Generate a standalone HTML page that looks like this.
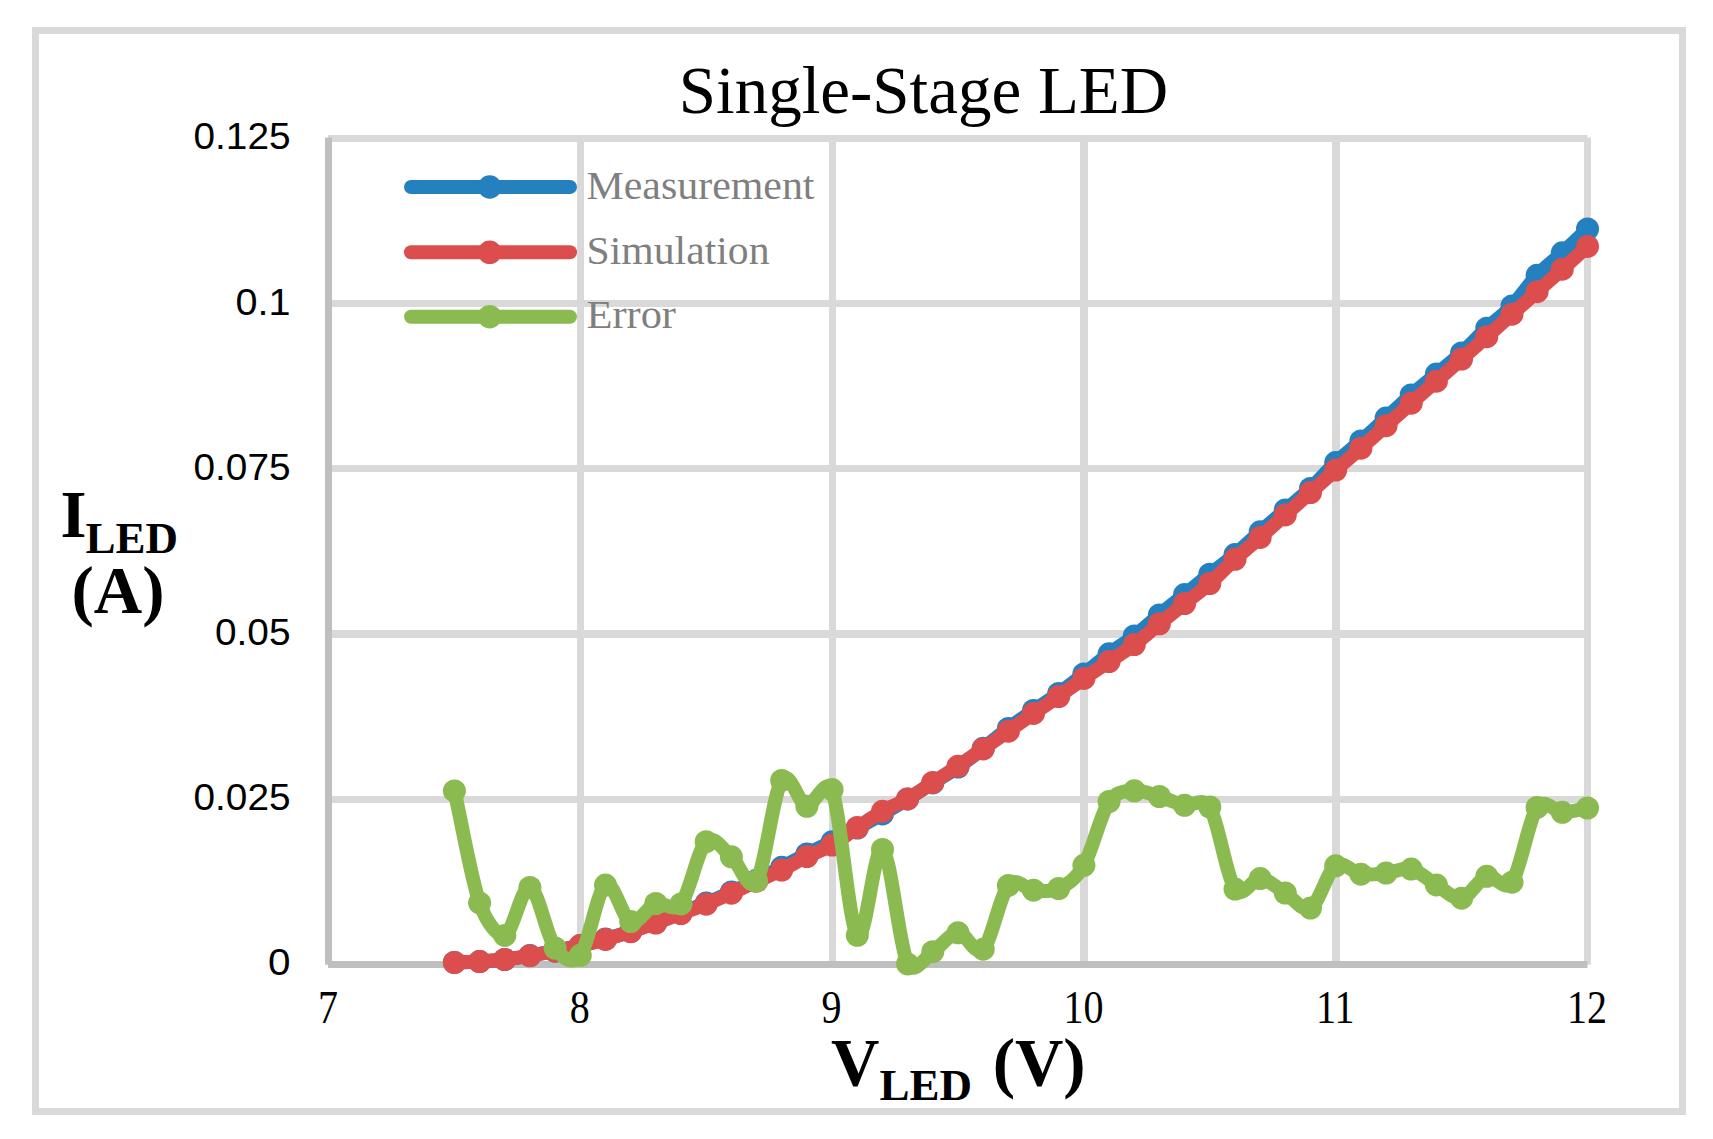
<!DOCTYPE html>
<html><head><meta charset="utf-8"><title>Single-Stage LED</title>
<style>html,body{margin:0;padding:0;background:#fff}svg{display:block}text{font-family:"Liberation Serif",serif}.sans{font-family:"Liberation Sans",sans-serif}</style></head><body>
<svg width="1713" height="1139" viewBox="0 0 1713 1139">
<rect width="1713" height="1139" fill="#fff"/>
<rect x="35.5" y="30.5" width="1647" height="1081" fill="none" stroke="#d9d9d9" stroke-width="7"/>
<g fill="#d9d9d9">
<rect x="328" y="135" width="1259.5" height="7"/><rect x="328" y="300" width="1259.5" height="7"/><rect x="328" y="465" width="1259.5" height="7"/><rect x="328" y="630" width="1259.5" height="8"/><rect x="328" y="796" width="1259.5" height="7"/><rect x="577" y="137.5" width="7" height="827.2"/><rect x="829" y="137.5" width="7" height="827.2"/><rect x="1080" y="137.5" width="8" height="827.2"/><rect x="1332" y="137.5" width="8" height="827.2"/><rect x="1584" y="137.5" width="7" height="827.2"/></g>
<g fill="#bfbfbf"><rect x="325" y="137.5" width="7" height="827.2"/><rect x="328" y="961" width="1259.5" height="7"/></g>
<g fill="#2480bf"><path d="M454.40,962.45 C462.79,962.15 471.19,962.07 479.58,961.57 C487.97,961.08 496.37,960.47 504.76,959.48 C513.15,958.48 521.55,957.01 529.94,955.60 C538.33,954.18 546.73,952.64 555.12,950.97 C563.51,949.30 571.91,947.55 580.30,945.57 C588.69,943.60 597.09,941.44 605.48,939.09 C613.87,936.75 622.27,934.23 630.66,931.49 C639.05,928.74 647.45,925.69 655.84,922.61 C664.23,919.54 672.63,916.29 681.02,913.03 C689.41,909.77 697.81,906.56 706.20,903.06 C714.59,899.56 722.99,895.82 731.38,892.02 C739.77,888.21 748.17,884.36 756.56,880.24 C764.95,876.11 773.35,871.67 781.74,867.29 C790.13,862.91 798.53,858.21 806.92,853.95 C815.31,849.70 823.71,846.06 832.10,841.75 C840.49,837.44 848.89,832.74 857.28,828.10 C865.67,823.46 874.07,818.79 882.46,813.92 C890.85,809.06 899.25,804.09 907.64,798.92 C916.03,793.74 924.43,788.15 932.82,782.85 C941.21,777.56 949.61,772.90 958.00,767.15 C966.39,761.40 974.79,754.81 983.18,748.35 C991.57,741.89 999.97,734.67 1008.36,728.37 C1016.75,722.07 1025.15,716.38 1033.54,710.54 C1041.93,704.71 1050.33,699.47 1058.72,693.38 C1067.11,687.30 1075.51,680.63 1083.90,674.04 C1092.29,667.45 1100.69,660.18 1109.08,653.84 C1117.47,647.49 1125.87,642.45 1134.26,635.96 C1142.65,629.48 1151.05,621.81 1159.44,614.91 C1167.83,608.02 1176.23,601.37 1184.62,594.59 C1193.01,587.80 1201.41,580.86 1209.80,574.20 C1218.19,567.54 1226.59,561.69 1234.98,554.62 C1243.37,547.55 1251.77,539.22 1260.16,531.77 C1268.55,524.33 1276.95,517.21 1285.34,509.98 C1293.73,502.76 1302.13,496.33 1310.52,488.44 C1318.91,480.54 1327.31,470.50 1335.70,462.60 C1344.09,454.71 1352.49,448.46 1360.88,441.05 C1369.27,433.64 1377.67,425.82 1386.06,418.14 C1394.45,410.46 1402.85,402.32 1411.24,394.98 C1419.63,387.64 1428.03,381.11 1436.42,374.09 C1444.81,367.07 1453.21,360.51 1461.60,352.86 C1469.99,345.22 1478.39,336.02 1486.78,328.21 C1495.17,320.40 1503.57,314.81 1511.96,306.00 C1520.35,297.18 1528.75,284.18 1537.14,275.32 C1545.53,266.45 1553.93,260.53 1562.32,252.81 C1570.71,245.09 1579.11,236.92 1587.50,228.98" fill="none" stroke="#2480bf" stroke-width="14" stroke-linejoin="round" stroke-linecap="round"/><circle cx="454.4" cy="962.4" r="11.5"/><circle cx="479.6" cy="961.6" r="11.5"/><circle cx="504.8" cy="959.5" r="11.5"/><circle cx="529.9" cy="955.6" r="11.5"/><circle cx="555.1" cy="951.0" r="11.5"/><circle cx="580.3" cy="945.6" r="11.5"/><circle cx="605.5" cy="939.1" r="11.5"/><circle cx="630.7" cy="931.5" r="11.5"/><circle cx="655.8" cy="922.6" r="11.5"/><circle cx="681.0" cy="913.0" r="11.5"/><circle cx="706.2" cy="903.1" r="11.5"/><circle cx="731.4" cy="892.0" r="11.5"/><circle cx="756.6" cy="880.2" r="11.5"/><circle cx="781.7" cy="867.3" r="11.5"/><circle cx="806.9" cy="854.0" r="11.5"/><circle cx="832.1" cy="841.8" r="11.5"/><circle cx="857.3" cy="828.1" r="11.5"/><circle cx="882.5" cy="813.9" r="11.5"/><circle cx="907.6" cy="798.9" r="11.5"/><circle cx="932.8" cy="782.9" r="11.5"/><circle cx="958.0" cy="767.1" r="11.5"/><circle cx="983.2" cy="748.3" r="11.5"/><circle cx="1008.4" cy="728.4" r="11.5"/><circle cx="1033.5" cy="710.5" r="11.5"/><circle cx="1058.7" cy="693.4" r="11.5"/><circle cx="1083.9" cy="674.0" r="11.5"/><circle cx="1109.1" cy="653.8" r="11.5"/><circle cx="1134.3" cy="636.0" r="11.5"/><circle cx="1159.4" cy="614.9" r="11.5"/><circle cx="1184.6" cy="594.6" r="11.5"/><circle cx="1209.8" cy="574.2" r="11.5"/><circle cx="1235.0" cy="554.6" r="11.5"/><circle cx="1260.2" cy="531.8" r="11.5"/><circle cx="1285.3" cy="510.0" r="11.5"/><circle cx="1310.5" cy="488.4" r="11.5"/><circle cx="1335.7" cy="462.6" r="11.5"/><circle cx="1360.9" cy="441.0" r="11.5"/><circle cx="1386.1" cy="418.1" r="11.5"/><circle cx="1411.2" cy="395.0" r="11.5"/><circle cx="1436.4" cy="374.1" r="11.5"/><circle cx="1461.6" cy="352.9" r="11.5"/><circle cx="1486.8" cy="328.2" r="11.5"/><circle cx="1512.0" cy="306.0" r="11.5"/><circle cx="1537.1" cy="275.3" r="11.5"/><circle cx="1562.3" cy="252.8" r="11.5"/><circle cx="1587.5" cy="229.0" r="11.5"/></g>
<g fill="#dc4e4d"><path d="M454.40,962.50 C462.79,962.20 471.19,962.10 479.58,961.60 C487.97,961.10 496.37,960.48 504.76,959.50 C513.15,958.52 521.55,957.12 529.94,955.70 C538.33,954.28 546.73,952.68 555.12,951.00 C563.51,949.32 571.91,947.53 580.30,945.60 C588.69,943.67 597.09,941.72 605.48,939.40 C613.87,937.08 622.27,934.43 630.66,931.70 C639.05,928.97 647.45,926.03 655.84,923.00 C664.23,919.97 672.63,916.63 681.02,913.50 C689.41,910.37 697.81,907.58 706.20,904.20 C714.59,900.82 722.99,897.02 731.38,893.20 C739.77,889.38 748.17,885.17 756.56,881.30 C764.95,877.43 773.35,874.12 781.74,870.00 C790.13,865.88 798.53,860.77 806.92,856.60 C815.31,852.43 823.71,849.85 832.10,845.00 C840.49,840.15 848.89,833.12 857.28,827.50 C865.67,821.88 874.07,816.07 882.46,811.30 C890.85,806.53 899.25,803.70 907.64,798.90 C916.03,794.10 924.43,787.95 932.82,782.50 C941.21,777.05 949.61,771.81 958.00,766.20 C966.39,760.59 974.79,754.68 983.18,748.85 C991.57,743.02 999.97,737.11 1008.36,731.20 C1016.75,725.29 1025.15,719.18 1033.54,713.40 C1041.93,707.62 1050.33,702.33 1058.72,696.50 C1067.11,690.67 1075.51,684.23 1083.90,678.40 C1092.29,672.57 1100.69,667.13 1109.08,661.50 C1117.47,655.87 1125.87,650.88 1134.26,644.60 C1142.65,638.32 1151.05,630.65 1159.44,623.80 C1167.83,616.95 1176.23,610.22 1184.62,603.50 C1193.01,596.78 1201.41,590.87 1209.80,583.50 C1218.19,576.13 1226.59,566.98 1234.98,559.30 C1243.37,551.62 1251.77,544.80 1260.16,537.40 C1268.55,530.00 1276.95,522.38 1285.34,514.90 C1293.73,507.42 1302.13,499.97 1310.52,492.50 C1318.91,485.03 1327.31,477.48 1335.70,470.10 C1344.09,462.72 1352.49,455.60 1360.88,448.20 C1369.27,440.80 1377.67,433.20 1386.06,425.70 C1394.45,418.20 1402.85,410.62 1411.24,403.20 C1419.63,395.78 1428.03,388.57 1436.42,381.20 C1444.81,373.83 1453.21,366.42 1461.60,359.00 C1469.99,351.58 1478.39,344.17 1486.78,336.70 C1495.17,329.23 1503.57,321.70 1511.96,314.20 C1520.35,306.70 1528.75,299.20 1537.14,291.70 C1545.53,284.20 1553.93,276.75 1562.32,269.20 C1570.71,261.65 1579.11,254.00 1587.50,246.40" fill="none" stroke="#dc4e4d" stroke-width="14" stroke-linejoin="round" stroke-linecap="round"/><circle cx="454.4" cy="962.5" r="11.5"/><circle cx="479.6" cy="961.6" r="11.5"/><circle cx="504.8" cy="959.5" r="11.5"/><circle cx="529.9" cy="955.7" r="11.5"/><circle cx="555.1" cy="951.0" r="11.5"/><circle cx="580.3" cy="945.6" r="11.5"/><circle cx="605.5" cy="939.4" r="11.5"/><circle cx="630.7" cy="931.7" r="11.5"/><circle cx="655.8" cy="923.0" r="11.5"/><circle cx="681.0" cy="913.5" r="11.5"/><circle cx="706.2" cy="904.2" r="11.5"/><circle cx="731.4" cy="893.2" r="11.5"/><circle cx="756.6" cy="881.3" r="11.5"/><circle cx="781.7" cy="870.0" r="11.5"/><circle cx="806.9" cy="856.6" r="11.5"/><circle cx="832.1" cy="845.0" r="11.5"/><circle cx="857.3" cy="827.5" r="11.5"/><circle cx="882.5" cy="811.3" r="11.5"/><circle cx="907.6" cy="798.9" r="11.5"/><circle cx="932.8" cy="782.5" r="11.5"/><circle cx="958.0" cy="766.2" r="11.5"/><circle cx="983.2" cy="748.9" r="11.5"/><circle cx="1008.4" cy="731.2" r="11.5"/><circle cx="1033.5" cy="713.4" r="11.5"/><circle cx="1058.7" cy="696.5" r="11.5"/><circle cx="1083.9" cy="678.4" r="11.5"/><circle cx="1109.1" cy="661.5" r="11.5"/><circle cx="1134.3" cy="644.6" r="11.5"/><circle cx="1159.4" cy="623.8" r="11.5"/><circle cx="1184.6" cy="603.5" r="11.5"/><circle cx="1209.8" cy="583.5" r="11.5"/><circle cx="1235.0" cy="559.3" r="11.5"/><circle cx="1260.2" cy="537.4" r="11.5"/><circle cx="1285.3" cy="514.9" r="11.5"/><circle cx="1310.5" cy="492.5" r="11.5"/><circle cx="1335.7" cy="470.1" r="11.5"/><circle cx="1360.9" cy="448.2" r="11.5"/><circle cx="1386.1" cy="425.7" r="11.5"/><circle cx="1411.2" cy="403.2" r="11.5"/><circle cx="1436.4" cy="381.2" r="11.5"/><circle cx="1461.6" cy="359.0" r="11.5"/><circle cx="1486.8" cy="336.7" r="11.5"/><circle cx="1512.0" cy="314.2" r="11.5"/><circle cx="1537.1" cy="291.7" r="11.5"/><circle cx="1562.3" cy="269.2" r="11.5"/><circle cx="1587.5" cy="246.4" r="11.5"/></g>
<g fill="#8bbb50"><path d="M454.40,790.90 C462.79,828.23 471.19,878.82 479.58,902.90 C486.35,922.31 497.99,937.47 504.76,935.40 C513.15,932.83 521.55,885.40 529.94,887.50 C538.33,889.60 546.73,936.70 555.12,948.00 C562.94,958.52 572.11,965.53 580.30,955.30 C588.69,944.82 597.09,890.72 605.48,885.10 C613.87,879.48 622.27,918.53 630.66,921.60 C639.05,924.67 647.45,906.45 655.84,903.50 C663.79,900.70 673.07,913.66 681.02,903.90 C689.41,893.60 697.81,849.55 706.20,841.70 C714.59,833.85 722.99,850.25 731.38,856.80 C739.77,863.35 748.17,893.73 756.56,881.00 C764.95,868.27 773.35,792.85 781.74,780.40 C790.13,767.95 798.53,804.77 806.92,806.30 C812.41,807.30 826.61,775.53 832.10,789.60 C840.49,811.10 848.89,925.32 857.28,935.30 C865.67,945.28 874.07,844.73 882.46,849.50 C890.85,854.27 899.25,946.87 907.64,963.90 C913.82,976.45 926.64,955.52 932.82,951.70 C941.21,946.52 949.61,933.22 958.00,932.80 C966.39,932.38 974.79,957.10 983.18,949.20 C991.57,941.30 999.97,895.23 1008.36,885.40 C1016.68,875.65 1025.22,889.69 1033.54,890.20 C1041.93,890.72 1050.33,892.65 1058.72,888.50 C1067.11,884.35 1075.51,879.80 1083.90,865.30 C1092.29,850.80 1100.69,813.92 1109.08,801.50 C1116.74,790.17 1126.60,791.56 1134.26,790.80 C1142.65,789.97 1151.05,794.08 1159.44,796.50 C1167.83,798.92 1176.23,803.55 1184.62,805.30 C1191.12,806.66 1203.30,796.18 1209.80,807.00 C1218.19,820.97 1226.59,877.17 1234.98,889.10 C1242.83,900.26 1252.31,877.99 1260.16,878.60 C1268.55,879.25 1276.95,888.08 1285.34,893.00 C1293.73,897.92 1302.13,912.63 1310.52,908.10 C1318.91,903.57 1327.31,871.45 1335.70,865.80 C1344.09,860.15 1352.49,872.98 1360.88,874.20 C1369.27,875.42 1377.67,873.95 1386.06,873.10 C1394.45,872.25 1402.85,867.13 1411.24,869.10 C1419.63,871.07 1428.03,880.05 1436.42,884.90 C1444.81,889.75 1453.21,899.63 1461.60,898.20 C1469.99,896.77 1478.39,878.97 1486.78,876.30 C1494.41,873.88 1504.33,892.64 1511.96,882.20 C1520.35,870.72 1528.75,819.05 1537.14,807.40 C1544.64,796.99 1554.82,812.21 1562.32,812.30 C1570.71,812.40 1579.11,809.43 1587.50,808.00" fill="none" stroke="#8bbb50" stroke-width="14" stroke-linejoin="round" stroke-linecap="round"/><circle cx="454.4" cy="790.9" r="11.5"/><circle cx="479.6" cy="902.9" r="11.5"/><circle cx="504.8" cy="935.4" r="11.5"/><circle cx="529.9" cy="887.5" r="11.5"/><circle cx="555.1" cy="948.0" r="11.5"/><circle cx="580.3" cy="955.3" r="11.5"/><circle cx="605.5" cy="885.1" r="11.5"/><circle cx="630.7" cy="921.6" r="11.5"/><circle cx="655.8" cy="903.5" r="11.5"/><circle cx="681.0" cy="903.9" r="11.5"/><circle cx="706.2" cy="841.7" r="11.5"/><circle cx="731.4" cy="856.8" r="11.5"/><circle cx="756.6" cy="881.0" r="11.5"/><circle cx="781.7" cy="780.4" r="11.5"/><circle cx="806.9" cy="806.3" r="11.5"/><circle cx="832.1" cy="789.6" r="11.5"/><circle cx="857.3" cy="935.3" r="11.5"/><circle cx="882.5" cy="849.5" r="11.5"/><circle cx="907.6" cy="963.9" r="11.5"/><circle cx="932.8" cy="951.7" r="11.5"/><circle cx="958.0" cy="932.8" r="11.5"/><circle cx="983.2" cy="949.2" r="11.5"/><circle cx="1008.4" cy="885.4" r="11.5"/><circle cx="1033.5" cy="890.2" r="11.5"/><circle cx="1058.7" cy="888.5" r="11.5"/><circle cx="1083.9" cy="865.3" r="11.5"/><circle cx="1109.1" cy="801.5" r="11.5"/><circle cx="1134.3" cy="790.8" r="11.5"/><circle cx="1159.4" cy="796.5" r="11.5"/><circle cx="1184.6" cy="805.3" r="11.5"/><circle cx="1209.8" cy="807.0" r="11.5"/><circle cx="1235.0" cy="889.1" r="11.5"/><circle cx="1260.2" cy="878.6" r="11.5"/><circle cx="1285.3" cy="893.0" r="11.5"/><circle cx="1310.5" cy="908.1" r="11.5"/><circle cx="1335.7" cy="865.8" r="11.5"/><circle cx="1360.9" cy="874.2" r="11.5"/><circle cx="1386.1" cy="873.1" r="11.5"/><circle cx="1411.2" cy="869.1" r="11.5"/><circle cx="1436.4" cy="884.9" r="11.5"/><circle cx="1461.6" cy="898.2" r="11.5"/><circle cx="1486.8" cy="876.3" r="11.5"/><circle cx="1512.0" cy="882.2" r="11.5"/><circle cx="1537.1" cy="807.4" r="11.5"/><circle cx="1562.3" cy="812.3" r="11.5"/><circle cx="1587.5" cy="808.0" r="11.5"/></g>
<line x1="411" y1="187" x2="570" y2="187" stroke="#2480bf" stroke-width="14" stroke-linecap="round"/><circle cx="489.7" cy="187" r="11.8" fill="#2480bf"/><text x="586.5" y="198.6" font-size="39.5" fill="#7f7f7f" textLength="228" lengthAdjust="spacingAndGlyphs">Measurement</text>
<line x1="411" y1="252.3" x2="570" y2="252.3" stroke="#dc4e4d" stroke-width="14" stroke-linecap="round"/><circle cx="489.7" cy="252.3" r="11.8" fill="#dc4e4d"/><text x="586.5" y="263.9" font-size="39.5" fill="#7f7f7f" textLength="183" lengthAdjust="spacingAndGlyphs">Simulation</text>
<line x1="411" y1="316.7" x2="570" y2="316.7" stroke="#8bbb50" stroke-width="14" stroke-linecap="round"/><circle cx="489.7" cy="316.7" r="11.8" fill="#8bbb50"/><text x="586.5" y="328.3" font-size="39.5" fill="#7f7f7f" textLength="89.5" lengthAdjust="spacingAndGlyphs">Error</text>
<text x="923.5" y="113" font-size="67" text-anchor="middle" fill="#000">Single-Stage LED</text>
<text class="sans" x="268.0" y="975.3" font-size="37" fill="#000" textLength="22.5" lengthAdjust="spacingAndGlyphs">0</text><text class="sans" x="193.5" y="810.1" font-size="37" fill="#000" textLength="97" lengthAdjust="spacingAndGlyphs">0.025</text><text class="sans" x="215.0" y="644.9" font-size="37" fill="#000" textLength="75.5" lengthAdjust="spacingAndGlyphs">0.05</text><text class="sans" x="193.5" y="479.7" font-size="37" fill="#000" textLength="97" lengthAdjust="spacingAndGlyphs">0.075</text><text class="sans" x="235.5" y="314.5" font-size="37" fill="#000" textLength="55" lengthAdjust="spacingAndGlyphs">0.1</text><text class="sans" x="193.5" y="149.3" font-size="37" fill="#000" textLength="97" lengthAdjust="spacingAndGlyphs">0.125</text>
<text transform="translate(328.0,1023) scale(0.87,1)" font-size="46" text-anchor="middle" fill="#000">7</text><text transform="translate(579.8,1023) scale(0.87,1)" font-size="46" text-anchor="middle" fill="#000">8</text><text transform="translate(831.6,1023) scale(0.87,1)" font-size="46" text-anchor="middle" fill="#000">9</text><text transform="translate(1083.4,1023) scale(0.87,1)" font-size="46" text-anchor="middle" fill="#000">10</text><text transform="translate(1335.2,1023) scale(0.87,1)" font-size="46" text-anchor="middle" fill="#000">11</text><text transform="translate(1587.0,1023) scale(0.87,1)" font-size="46" text-anchor="middle" fill="#000">12</text>
<text x="60.5" y="536.5" font-size="67" font-weight="bold" fill="#000">I<tspan font-size="45" dy="16" dx="-1">LED</tspan></text>
<text x="118" y="613" font-size="67" font-weight="bold" text-anchor="middle" fill="#000">(A)</text>
<text x="831" y="1084.5" font-size="67" font-weight="bold" fill="#000">V<tspan font-size="45" dy="15.5">LED</tspan><tspan dy="-15.5" dx="4"> (V)</tspan></text>
</svg>
</body></html>
